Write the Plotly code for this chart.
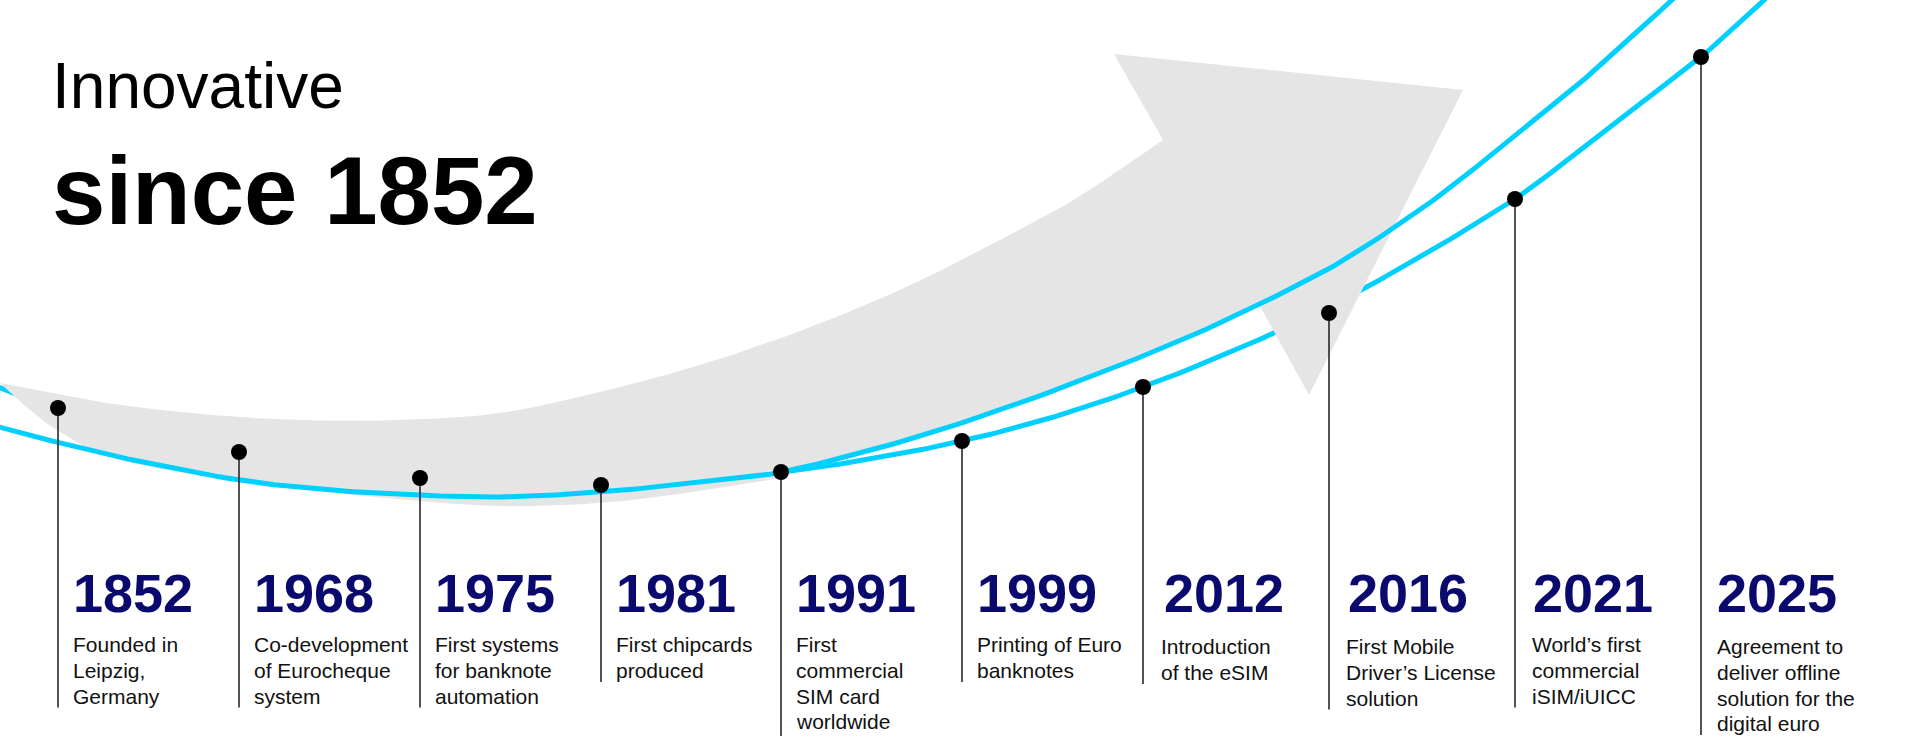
import numpy as np
import plotly.graph_objects as go

# ---------------- data ----------------
years = ["1852", "1968", "1975", "1981", "1991", "1999", "2012", "2016", "2021", "2025"]
descriptions = [
    "Founded in\nLeipzig,\nGermany",
    "Co-development\nof Eurocheque\nsystem",
    "First systems\nfor banknote\nautomation",
    "First chipcards\nproduced",
    "First\ncommercial\nSIM card\nworldwide",
    "Printing of Euro\nbanknotes",
    "Introduction\nof the eSIM",
    "First Mobile\nDriver’s License\nsolution",
    "World’s first\ncommercial\niSIM/iUICC",
    "Agreement to\ndeliver offline\nsolution for the\ndigital euro",
]
event_x = [58, 239, 420, 601, 781, 962, 1143, 1329, 1515, 1701]
event_level = [408, 452, 478, 485, 472, 441, 387, 313, 199, 57]

# cyan curve that runs beneath the grey arrow
curve_under_x = [-20, 0, 50, 100, 200, 300, 400, 500, 600, 700, 781, 870, 962, 1050, 1143,
                 1240, 1329, 1420, 1515, 1580, 1645, 1701, 1762, 1790]
curve_under_y = [380, 388, 408, 425, 446, 459, 467, 472, 475, 476, 472, 459, 441, 418, 387,
                 348, 307, 257, 199, 150, 100, 57, 2, -24]
# cyan curve drawn over the grey arrow
curve_over_x = [-20, 0, 60, 133, 239, 330, 420, 500, 601, 700, 782, 900, 1000, 1100, 1200,
                1300, 1360, 1435, 1500, 1560, 1615, 1672, 1700]
curve_over_y = [422, 427, 443, 460, 480, 490, 495, 497, 492, 482, 472, 442, 410, 373, 332,
                284, 250, 199, 148, 100, 52, 0, -26]

# grey arrow outline
arrow_top_x = [0, 100, 200, 300, 400, 500, 600, 700, 800, 900, 1000, 1080, 1163]
arrow_top_y = [383, 402, 414, 420, 420, 413, 392, 365, 331, 290, 240, 196, 140]
arrow_head_x = [1114, 1463, 1309, 1260]
arrow_head_y = [54, 90, 395, 305]
arrow_bottom_x = [0, 10, 30, 60, 110, 196, 300, 408, 500, 600, 700, 775]
arrow_bottom_y = [383, 392, 410, 432, 457, 475, 489, 500, 506, 503, 491, 479]

title_line1 = "Innovative"
title_line2 = "since 1852"

# ---------------- style ----------------
CYAN = "#00d0ff"
GREY = "#e5e5e5"
NAVY = "#0a0a6e"
FONT = "Liberation Sans, Arial, sans-serif"
label_nudge = [0, 0, 0, 0, 0, 0, 6, 4, 3, 1]
desc_drop = [0, 0, 0, 0, 0, 0, 2, 2, 0, 2]


def smooth(xs, ys, n=16):
    pts = np.column_stack([xs, ys]).astype(float)
    P = np.vstack([2 * pts[0] - pts[1], pts, 2 * pts[-1] - pts[-2]])
    out = []
    for i in range(1, len(P) - 2):
        p0, p1, p2, p3 = P[i - 1], P[i], P[i + 1], P[i + 2]
        for t in np.linspace(0, 1, n, endpoint=False):
            t2, t3 = t * t, t * t * t
            out.append(0.5 * (2 * p1 + (-p0 + p2) * t + (2 * p0 - 5 * p1 + 4 * p2 - p3) * t2
                              + (-p0 + 3 * p1 - 3 * p2 + p3) * t3))
    out.append(pts[-1])
    out = np.array(out)
    return out[:, 0], out[:, 1]


ux, uy = smooth(curve_under_x, curve_under_y)
ox, oy = smooth(curve_over_x, curve_over_y)
tx, ty = smooth(arrow_top_x, arrow_top_y)
bx, by = smooth(arrow_bottom_x, arrow_bottom_y)

# arrow polygon: top edge -> head -> along over-curve back -> bottom edge back to tail
mask = (ox >= 790) & (ox <= arrow_head_x[-1])
seg_x, seg_y = ox[mask][::-1], oy[mask][::-1]
poly_x = list(tx) + arrow_head_x + list(seg_x) + list(bx[::-1])
poly_y = list(ty) + arrow_head_y + list(seg_y) + list(by[::-1])

fig = go.Figure()
fig.add_trace(go.Scatter(x=ux, y=uy, mode="lines", line=dict(color=CYAN, width=5),
                         hoverinfo="skip"))
fig.add_trace(go.Scatter(x=poly_x, y=poly_y, mode="lines", fill="toself", fillcolor=GREY,
                         line=dict(width=0, color=GREY), hoverinfo="skip"))
fig.add_trace(go.Scatter(x=ox, y=oy, mode="lines", line=dict(color=CYAN, width=5),
                         hoverinfo="skip"))

# stems
stem_x, stem_y = [], []
for x, lvl, d, dd in zip(event_x, event_level, descriptions, desc_drop):
    n = len(d.split("\n"))
    end = 631 + 25.5 * n + dd
    if n >= 4 and x < 1000:
        end = 745
    stem_x += [x, x, None]
    stem_y += [lvl, end, None]
fig.add_trace(go.Scatter(x=stem_x, y=stem_y, mode="lines", line=dict(color="#1a1a1a", width=1.5),
                         hoverinfo="skip"))
fig.add_trace(go.Scatter(x=event_x, y=event_level, mode="markers",
                         marker=dict(color="black", size=16), hoverinfo="skip"))

ann = []


def center(baseline, size):
    return baseline - 0.3465 * size


ann.append(dict(x=50, y=center(108, 64), text=title_line1, font=dict(family=FONT, size=64, color="black")))
ann.append(dict(x=50, y=center(224, 96), text="<b>" + title_line2 + "</b>",
                font=dict(family=FONT, size=96, color="black")))
for x, yr, d, nud, dd in zip(event_x, years, descriptions, label_nudge, desc_drop):
    ann.append(dict(x=x + 12.5 + nud, y=center(612, 54), text="<b>" + yr + "</b>",
                    font=dict(family=FONT, size=54, color=NAVY)))
    for k, line in enumerate(d.split("\n")):
        ann.append(dict(x=x + 13 + nud * 0.5, y=center(652 + dd + 25.7 * k, 21), text=line,
                        font=dict(family=FONT, size=21, color="#111111")))
for a in ann:
    a.update(xref="x", yref="y", showarrow=False, xanchor="left", yanchor="middle")

fig.update_layout(
    width=1920, height=736, margin=dict(l=0, r=0, t=0, b=0),
    paper_bgcolor="white", plot_bgcolor="white", showlegend=False,
    xaxis=dict(range=[0, 1920], visible=False, fixedrange=True),
    yaxis=dict(range=[736, 0], visible=False, fixedrange=True),
    annotations=ann,
)
fig.write_html("out.html", config={"displayModeBar": False},
               post_script="document.body.style.margin='0px';document.body.style.overflow='hidden';")
